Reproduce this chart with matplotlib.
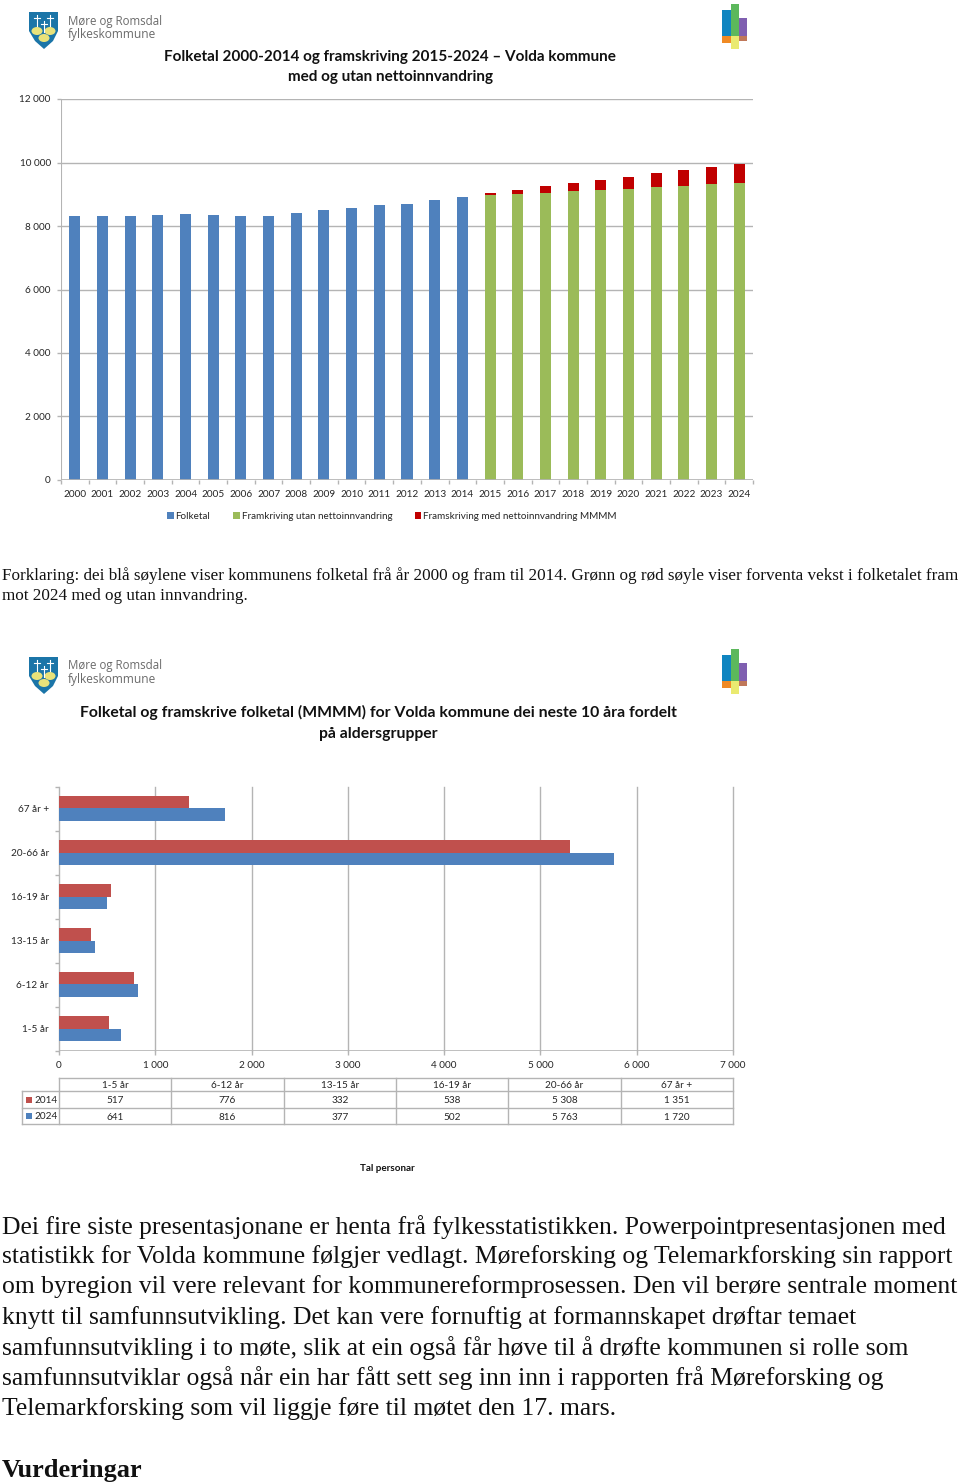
import matplotlib
matplotlib.use('Agg')
import matplotlib.pyplot as plt
from matplotlib.patches import Polygon, Rectangle, Ellipse

W, H = 960, 1482

# chart 1
years = [str(y) for y in range(2000, 2025)]
folketal = [8315, 8315, 8330, 8340, 8378, 8355, 8315, 8315, 8410, 8515, 8578, 8660, 8693, 8830, 8913]
utan_netto = [8965, 9008, 9050, 9092, 9134, 9176, 9228, 9270, 9312, 9354]
med_netto = [74, 136, 200, 262, 315, 378, 432, 484, 546, 589]
y_ticks = [0, 2000, 4000, 6000, 8000, 10000, 12000]

# chart 2
groups = ['1-5 år', '6-12 år', '13-15 år', '16-19 år', '20-66 år', '67 år +']
val_2014 = [517, 776, 332, 538, 5308, 1351]
val_2024 = [641, 816, 377, 502, 5763, 1720]
x_ticks = [0, 1000, 2000, 3000, 4000, 5000, 6000, 7000]

title1 = ['Folketal 2000-2014 og framskriving 2015-2024 \u2013 Volda kommune', 'med og utan nettoinnvandring']
title2 = ['Folketal og framskrive folketal (MMMM) for Volda kommune dei neste 10 åra fordelt', 'på aldersgrupper']
forklaring = ['Forklaring: dei blå søylene viser kommunens folketal frå år 2000 og fram til 2014. Grønn og rød søyle viser forventa vekst i folketalet fram',
              'mot 2024 med og utan innvandring.']
body = ['Dei fire siste presentasjonane er henta frå fylkesstatistikken. Powerpointpresentasjonen med',
        'statistikk for Volda kommune følgjer vedlagt. Møreforsking og Telemarkforsking sin rapport',
        'om byregion vil vere relevant for kommunereformprosessen. Den vil berøre sentrale moment',
        'knytt til samfunnsutvikling. Det kan vere fornuftig at formannskapet drøftar temaet',
        'samfunnsutvikling i to møte, slik at ein også får høve til å drøfte kommunen si rolle som',
        'samfunnsutviklar også når ein har fått sett seg inn inn i rapporten frå Møreforsking og',
        'Telemarkforsking som vil liggje føre til møtet den 17. mars.']
body_y = [1227, 1257, 1287, 1318, 1348, 1378, 1409]

BLUE = '#4f81bd'
GREEN = '#9bbb59'
DARKRED = '#c00000'
RED = '#c0504d'
GRID = '#b4b4b4'
TXT = '#262626'
SANS = 'Lato'
SERIF = 'Liberation Serif'
TICK = 7.2


def sp(n):
    return f'{n:,}'.replace(',', ' ')


def px_axes(fig, left, top, right, bottom):
    return fig.add_axes([left / W, 1 - bottom / H, (right - left) / W, (bottom - top) / H])


def style_axis(ax):
    for s in ax.spines.values():
        s.set_visible(False)
    ax.set_facecolor('none')
    ax.set_axisbelow(True)


def draw_logo(bg, dy):
    shield = [(29, 12), (58, 12), (58, 31), (53, 41), (44, 49), (35, 41), (29, 31)]
    bg.add_patch(Polygon([(x, y + dy) for x, y in shield], color='#1b75a8', lw=0))
    for x, y in [(37, 31), (50, 31), (44, 38)]:
        bg.add_patch(Ellipse((x, y + dy), 11, 8, color='#e9e27a', lw=0))
    for x in (37, 44, 50):
        top = 15 + dy if x != 44 else 21 + dy
        bg.plot([x, x], [top, top + 11], color='white', lw=0.8)
        bg.plot([x - 3, x + 3], [top + 3, top + 3], color='white', lw=0.8)
    bg.text(68, 21 + dy, 'Møre og Romsdal', fontsize=8.3, color='#6b6b6b', family='Open Sans', va='center')
    bg.text(68, 34.5 + dy, 'fylkeskommune', fontsize=8.6, color='#6b6b6b', family='Open Sans', va='center')
    blocks = [(722, 10, 9, 26, '#0f85c0'), (722, 36, 9, 7, '#f08a24'),
              (731, 4, 8, 32, '#5cb85c'), (731, 36, 8, 13, '#eaea70'),
              (739, 18, 8, 18, '#7f5fb0'), (739, 36, 8, 5, '#c0785a')]
    for x, y, w, h, c in blocks:
        bg.add_patch(Rectangle((x, y + dy), w, h, color=c, lw=0))


fig = plt.figure(figsize=(W / 100, H / 100), dpi=100, facecolor='white')

bg = fig.add_axes([0, 0, 1, 1], zorder=5)
bg.set_xlim(0, W)
bg.set_ylim(H, 0)
bg.axis('off')
bg.patch.set_alpha(0)

draw_logo(bg, 0)
draw_logo(bg, 645)

for line, y in zip(title1, [56.5, 76.5]):
    bg.text(390, y, line, fontsize=11.0, fontweight='bold', family=SANS, ha='center', va='center', color='#111111')
for line, y in zip(title2, [712, 734]):
    bg.text(378, y, line, fontsize=11.3, fontweight='bold', family=SANS, ha='center', va='center', color='#111111')

for line, y in zip(forklaring, [576, 596]):
    bg.text(2, y, line, fontsize=12.35, family=SERIF, va='center', color='#111111')
for line, y in zip(body, body_y):
    bg.text(2, y, line, fontsize=18.45, family=SERIF, va='center', color='#111111')
bg.text(2, 1470, 'Vurderingar', fontsize=18.9, fontweight='bold', family=SERIF, va='center', color='#111111')

# --- chart 1, stacked columns
ax1 = px_axes(fig, 61, 99, 753, 480)
style_axis(ax1)
pos = list(range(len(years)))
pos_fram = pos[len(folketal):]
ax1.bar(pos[:len(folketal)], folketal, width=0.4, color=BLUE, label='Folketal')
ax1.bar(pos_fram, utan_netto, width=0.4, color=GREEN, label='Framkriving utan nettoinnvandring')
ax1.bar(pos_fram, med_netto, width=0.4, bottom=utan_netto, color=DARKRED,
        label='Framskriving med nettoinnvandring MMMM')
ax1.set_xlim(-0.5, len(years) - 0.5)
ax1.set_ylim(0, 12000)
ax1.set_yticks(y_ticks)
ax1.set_yticklabels([sp(v) for v in y_ticks], fontsize=TICK, family=SANS, color=TXT)
ax1.set_xticks(pos)
ax1.set_xticklabels(years, fontsize=TICK, family=SANS, color=TXT)
ax1.set_xticks([p - 0.5 for p in pos] + [pos[-1] + 0.5], minor=True)
ax1.tick_params(axis='x', which='major', length=0, pad=7)
ax1.tick_params(axis='x', which='minor', length=3, color=GRID, width=1)
ax1.tick_params(axis='y', length=3, color=GRID, width=1, pad=4.3)
ax1.grid(axis='y', color=GRID, lw=1.0)
ax1.axvline(-0.5, color=GRID, lw=1.5, zorder=1)
ax1.axhline(0, color=GRID, lw=1.2, zorder=4)
ax1.legend(loc='center', bbox_to_anchor=((392 - 61) / 692, -36.5 / 381), ncol=3, frameon=False,
           prop={'family': SANS, 'size': 7.15}, labelcolor=TXT, handlelength=0.65, handleheight=0.65,
           handletextpad=0.2, columnspacing=2.3, borderpad=0)

# --- chart 2, horizontal bars
ax2 = px_axes(fig, 59, 786.5, 733, 1050.5)
style_axis(ax2)
pos2 = list(range(len(groups)))
ax2.barh([p + 0.14 for p in pos2], val_2014, height=0.28, color=RED)
ax2.barh([p - 0.14 for p in pos2], val_2024, height=0.28, color=BLUE)
ax2.set_xlim(0, 7000)
ax2.set_ylim(-0.5, len(groups) - 0.5)
ax2.set_xticks(x_ticks)
ax2.set_xticklabels([sp(v) for v in x_ticks], fontsize=TICK, family=SANS, color=TXT)
ax2.set_yticks(pos2)
ax2.set_yticklabels(groups, fontsize=TICK, family=SANS, color=TXT)
ax2.set_yticks([p - 0.5 for p in pos2] + [pos2[-1] + 0.5], minor=True)
ax2.tick_params(axis='y', which='major', length=0, pad=7.3)
ax2.tick_params(axis='y', which='minor', length=3, color=GRID, width=1)
ax2.tick_params(axis='x', length=3, color=GRID, width=1, pad=4.7)
ax2.grid(axis='x', color=GRID, lw=1.0, clip_on=False)
ax2.axhline(-0.5, color=GRID, lw=1.2, zorder=1)

# data table under chart 2
col_w = (733 - 59) / len(groups)
row_y = [1078, 1091, 1108, 1124]
for y in row_y:
    bg.plot([59 if y == row_y[0] else 22, 733], [y, y], color=GRID, lw=1.0)
for i in range(len(groups) + 1):
    bg.plot([59 + i * col_w] * 2, [row_y[0], row_y[-1]], color=GRID, lw=1.0)
bg.plot([22, 22], [row_y[1], row_y[-1]], color=GRID, lw=1.0)
for i, g in enumerate(groups):
    cx = 59 + (i + 0.5) * col_w
    bg.text(cx, 1085.5, g, fontsize=TICK, family=SANS, color=TXT, ha='center', va='center')
    bg.text(cx, 1100.5, sp(val_2014[i]), fontsize=TICK, family=SANS, color=TXT, ha='center', va='center')
    bg.text(cx, 1117, sp(val_2024[i]), fontsize=TICK, family=SANS, color=TXT, ha='center', va='center')
for label, c, y in [('2014', RED, 1099.5), ('2024', BLUE, 1116)]:
    bg.add_patch(Rectangle((26, y - 3), 6, 6, color=c, lw=0))
    bg.text(34, y + 0.7, label, fontsize=TICK, family=SANS, color=TXT, va='center')
bg.text(387, 1168.5, 'Tal personar', fontsize=7.1, fontweight='bold', family=SANS, color='#111111', ha='center', va='center')

fig.savefig('out.png', dpi=100)
